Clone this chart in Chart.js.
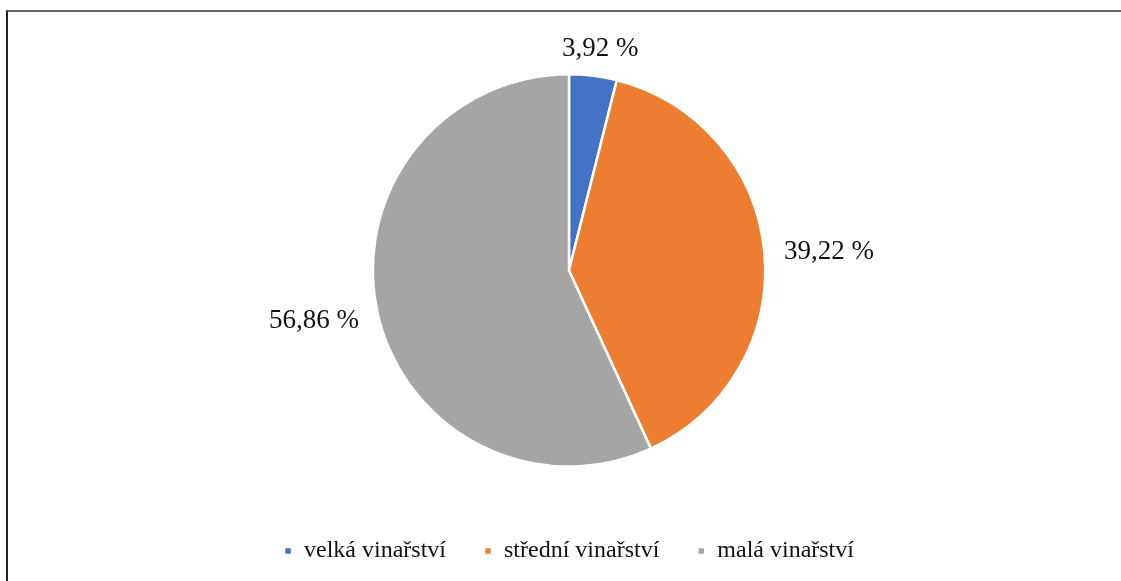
<!DOCTYPE html>
<html>
<head>
<meta charset="utf-8">
<script src="https://cdn.jsdelivr.net/npm/chart.js@4"></script>
<style>
html,body{margin:0;padding:0;background:#fff;overflow:hidden;}
#frame{position:absolute;left:6px;top:10px;width:1200px;height:700px;border-left:2px solid #222;border-top:2px solid #666;box-sizing:border-box;}
#wrap{position:absolute;left:0;top:0;width:1121px;height:581px;}
</style>
</head>
<body>
<div id="frame"></div>
<div id="wrap"><canvas id="c" width="1121" height="581"></canvas></div>
<script>
const categories = ['velká vinařství', 'střední vinařství', 'malá vinařství'];
const shares = [3.92, 39.22, 56.86];
const valueLabels = ['3,92 %', '39,22 %', '56,86 %'];
const colors = ['#4472C4', '#ED7D31', '#A5A5A5'];

const outsideLabels = {
  id: 'outsideLabels',
  afterDatasetsDraw(chart) {
    const ctx = chart.ctx;
    const meta = chart.getDatasetMeta(0);
    ctx.save();
    ctx.font = '27px "Liberation Serif", "Times New Roman", serif';
    ctx.fillStyle = '#111';
    ctx.textAlign = 'center';
    ctx.textBaseline = 'middle';
    meta.data.forEach((arc, i) => {
      const p = arc.getProps(['x', 'y', 'startAngle', 'endAngle', 'outerRadius'], true);
      const mid = (p.startAngle + p.endAngle) / 2;
      const text = valueLabels[i];
      const w = ctx.measureText(text).width;
      const d = p.outerRadius + 20;
      const cx = p.x + Math.cos(mid) * d + Math.cos(mid) * w / 2;
      const cy = p.y + Math.sin(mid) * d + Math.sin(mid) * 9 + 2;
      ctx.fillText(text, cx, cy);
    });
    ctx.restore();
  }
};

new Chart(document.getElementById('c'), {
  type: 'pie',
  data: {
    labels: categories,
    datasets: [{
      data: shares,
      backgroundColor: colors,
      borderColor: '#ffffff',
      borderWidth: 2.5
    }]
  },
  options: {
    responsive: false,
    animation: false,
    layout: { padding: { top: 73, left: 17, right: 0, bottom: 8 } },
    plugins: {
      tooltip: { enabled: false },
      legend: {
        position: 'bottom',
        title: { display: true, text: ' ', font: { size: 1 }, padding: { top: 32, bottom: 0 } },
        labels: {
          boxWidth: 8,
          boxHeight: 8,
          padding: 38,
          color: '#111',
          font: { family: '"Liberation Serif", "Times New Roman", serif', size: 24 }
        }
      }
    }
  },
  plugins: [outsideLabels]
});
</script>
</body>
</html>
